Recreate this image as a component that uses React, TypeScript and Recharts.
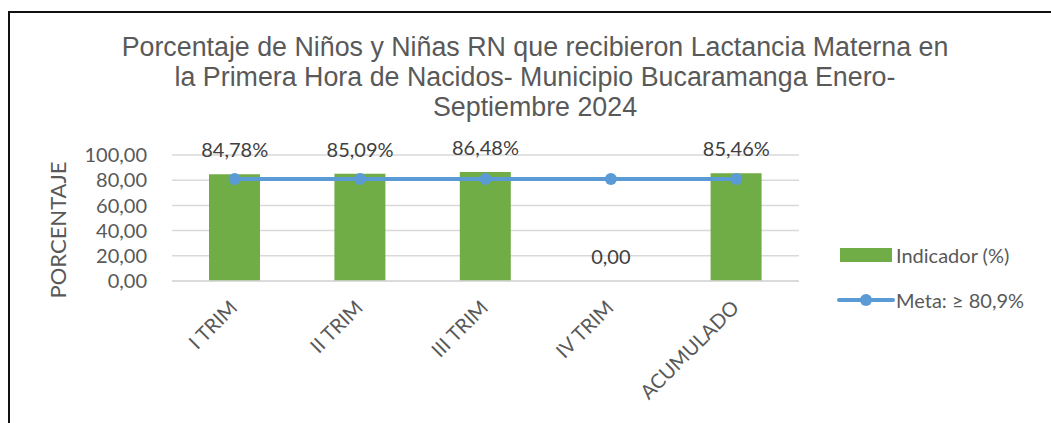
import { Bar, CartesianGrid, ComposedChart, LabelList, Line, XAxis, YAxis } from 'recharts';

const categories = ['I TRIM', 'II TRIM', 'III TRIM', 'IV TRIM', 'ACUMULADO'];
const indicador = [84.78, 85.09, 86.48, 0, 85.46];
const meta = [80.9, 80.9, 80.9, 80.9, 80.9];
const yTicks = [0, 20, 40, 60, 80, 100];
const titleLines = [
  'Porcentaje de Niños y Niñas RN que recibieron Lactancia Materna en',
  'la Primera Hora de Nacidos- Municipio Bucaramanga Enero-',
  'Septiembre 2024',
];

const data = categories.map((name, i) => ({ name, indicador: indicador[i], meta: meta[i] }));

const GRAY = '#595959';
const FONT = 'Lato, "Open Sans", sans-serif';

const fmt = (v: number) => v.toFixed(2).replace('.', ',');

function XTick(props: any) {
  const { x, y, payload } = props;
  return (
    <text
      transform={`translate(${x + 4},${y + 20}) rotate(-45)`}
      textAnchor="end"
      fill={GRAY}
      fontSize={20}
      fontFamily={FONT}
    >
      {payload.value}
    </text>
  );
}

function ValueLabel(props: any) {
  const { x, y, value } = props;
  const text = value === 0 ? fmt(value) : `${fmt(value)}%`;
  return (
    <text
      x={x}
      y={y - 25}
      textAnchor="middle"
      dominantBaseline="central"
      fill="#404040"
      fontSize={20}
      fontFamily={FONT}
    >
      {text}
    </text>
  );
}

function LegendBox() {
  return (
    <div style={{ fontFamily: FONT, fontSize: 20, color: GRAY }}>
      <div style={{ display: 'flex', alignItems: 'center', height: 30 }}>
        <svg width={60} height={20}>
          <rect x={4} y={3} width={52} height={14} fill="#70ad47" />
        </svg>
        <span>Indicador (%)</span>
      </div>
      <div style={{ display: 'flex', alignItems: 'center', height: 30, marginTop: 15 }}>
        <svg width={60} height={20}>
          <line x1={3} y1={10} x2={57} y2={10} stroke="#5b9bd5" strokeWidth={4} strokeLinecap="round" />
          <circle cx={30} cy={10} r={6} fill="#5b9bd5" />
        </svg>
        <span>Meta: ≥ 80,9%</span>
      </div>
    </div>
  );
}

export default function App() {
  return (
    <div style={{ position: 'fixed', left: 0, top: 0, width: 1051, height: 423, overflow: 'hidden', background: '#fff' }}>
      <div
        style={{
          position: 'absolute',
          left: 8,
          top: 11,
          width: 1100,
          height: 500,
          border: '2px solid #111',
          boxSizing: 'border-box',
        }}
      />
      <div
        style={{
          position: 'absolute',
          left: 0,
          top: 32,
          width: 1070,
          textAlign: 'center',
          fontFamily: '"Liberation Sans", Arial, sans-serif',
          fontSize: 26.8,
          lineHeight: '30px',
          color: GRAY,
        }}
      >
        {titleLines.map((l) => (
          <div key={l}>{l}</div>
        ))}
      </div>
      <div
        style={{
          position: 'absolute',
          left: 57,
          top: 230,
          transform: 'translate(-50%, -50%) rotate(-90deg)',
          fontFamily: FONT,
          fontSize: 22,
          color: GRAY,
          whiteSpace: 'nowrap',
        }}
      >
        PORCENTAJE
      </div>
      <ComposedChart
        width={1051}
        height={423}
        data={data}
        margin={{ top: 155, right: 252, bottom: 112, left: 92 }}
        style={{ position: 'absolute', left: 0, top: 0 }}
      >
        <CartesianGrid stroke="#d9d9d9" strokeWidth={1.5} vertical={false} />
        <XAxis
          dataKey="name"
          height={30}
          axisLine={{ stroke: '#d9d9d9', strokeWidth: 1.5 }}
          tickLine={false}
          interval={0}
          tick={<XTick />}
        />
        <YAxis
          width={80}
          domain={[0, 100]}
          ticks={yTicks}
          interval={0}
          axisLine={false}
          tickLine={false}
          tickSize={0}
          tickMargin={25}
          tickFormatter={fmt}
          tick={{ fill: GRAY, fontSize: 20, fontFamily: FONT }}
        />
        <Bar dataKey="indicador" fill="#70ad47" barSize={51} isAnimationActive={false} />
        <Line
          dataKey="indicador"
          stroke="none"
          dot={false}
          activeDot={false}
          isAnimationActive={false}
        >
          <LabelList dataKey="indicador" content={<ValueLabel />} />
        </Line>
        <Line
          dataKey="meta"
          stroke="#5b9bd5"
          strokeWidth={4}
          dot={{ r: 6, fill: '#5b9bd5', stroke: '#5b9bd5', strokeWidth: 0 }}
          isAnimationActive={false}
        />
      </ComposedChart>
      <div style={{ position: 'absolute', left: 836, top: 240, width: 215 }}>
        <LegendBox />
      </div>
    </div>
  );
}
